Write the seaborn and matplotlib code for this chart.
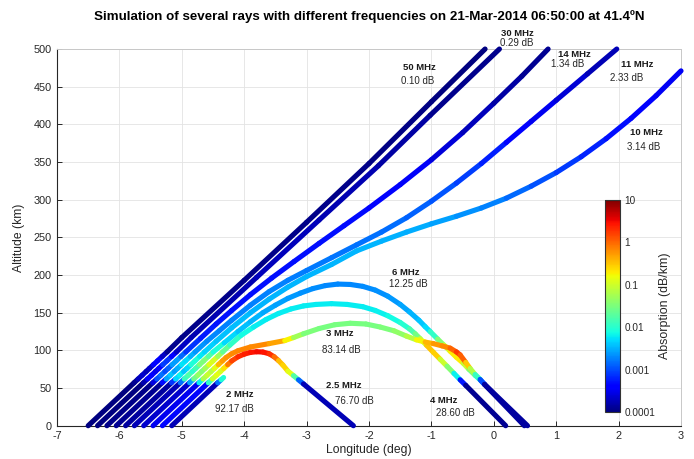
import numpy as np
import pandas as pd
import matplotlib
matplotlib.use("Agg")
import matplotlib.pyplot as plt
import seaborn as sns
from matplotlib.collections import LineCollection
from matplotlib.colors import LogNorm
from matplotlib.cm import ScalarMappable

# ---------------- data: ray paths (longitude deg, altitude km, absorption dB/km) ----------------
ray_50MHz = [(-6.50, 0, 1e-4), (-5.765, 57, 1e-4), (-5.70, 62, 1.5e-4), (-5.635, 67, 2.5e-4),
             (-5.571, 72, 2e-4), (-5.519, 76, 1.5e-4), (-5.455, 81, 3e-4), (-5.39, 86, 4.5e-4),
             (-5.313, 92, 3e-4), (-5.235, 98, 1.3e-4), (-5.00, 117, 1.1e-4), (-4.00, 193, 1.1e-4),
             (-3.00, 270, 1.1e-4), (-2.00, 348, 1.1e-4), (-1.00, 430, 1e-4), (-0.14, 500, 1e-4)]

ray_30MHz = [(-6.35, 0, 1e-4), (-5.615, 57, 1e-4), (-5.55, 62, 2.5e-4), (-5.485, 67, 5e-4),
             (-5.421, 72, 3.5e-4), (-5.369, 76, 2.5e-4), (-5.305, 81, 7e-4), (-5.24, 86, 1e-3),
             (-5.163, 92, 6e-4), (-5.085, 98, 2.5e-4), (-4.85, 117, 1.6e-4), (-3.80, 197, 1.8e-4),
             (-2.80, 273, 1.8e-4), (-1.85, 345, 1.6e-4), (-1.02, 412, 1.3e-4), (0.09, 500, 1.1e-4)]

ray_14MHz = [(-6.20, 0, 1e-4), (-5.465, 57, 1.2e-4), (-5.40, 62, 6e-4), (-5.335, 67, 2e-3),
             (-5.271, 72, 1.2e-3), (-5.219, 76, 8e-4), (-5.155, 81, 2e-3), (-5.09, 86, 3e-3),
             (-5.013, 92, 2e-3), (-4.935, 98, 1e-3), (-4.70, 116, 6e-4), (-4.45, 135, 5.5e-4),
             (-4.20, 153, 5e-4), (-3.90, 174, 5e-4), (-3.56, 196, 5e-4), (-3.20, 218, 5e-4),
             (-2.80, 242, 5e-4), (-2.40, 265.5, 5e-4), (-2.00, 289, 4.5e-4), (-1.50, 320, 4e-4),
             (-1.00, 353, 3e-4), (-0.50, 389, 2.2e-4), (0.00, 428, 1.6e-4), (0.45, 464, 1.3e-4),
             (0.87, 500, 1.2e-4)]

ray_11MHz = [(-6.05, 0, 1e-4), (-5.315, 57, 1.5e-4), (-5.25, 62, 1.5e-3), (-5.185, 67, 5e-3),
             (-5.121, 72, 3e-3), (-5.069, 76, 2e-3), (-5.005, 81, 5e-3), (-4.94, 86, 6e-3),
             (-4.863, 92, 4e-3), (-4.785, 98, 2.5e-3), (-4.60, 112, 2e-3), (-4.40, 126, 1.9e-3),
             (-4.20, 140, 1.8e-3), (-3.90, 160, 1.8e-3), (-3.60, 178, 1.8e-3), (-3.30, 193, 1.8e-3),
             (-3.00, 206, 1.7e-3), (-2.60, 223, 1.6e-3), (-2.20, 240, 1.6e-3), (-1.80, 257, 1.5e-3),
             (-1.40, 276, 1.4e-3), (-1.00, 298, 1.2e-3), (-0.60, 322, 1e-3), (-0.20, 348, 7e-4),
             (0.20, 376, 5e-4), (0.60, 404, 3.5e-4), (1.00, 432, 2.8e-4), (1.50, 467, 2e-4),
             (1.97, 500, 1.6e-4)]

ray_10MHz = [(-5.90, 0, 1e-4), (-5.165, 57, 2e-4), (-5.10, 62, 3e-3), (-5.035, 67, 8e-3),
             (-4.971, 72, 5e-3), (-4.919, 76, 3e-3), (-4.855, 81, 8e-3), (-4.79, 86, 1e-2),
             (-4.713, 92, 7e-3), (-4.635, 98, 5e-3), (-4.45, 112, 4e-3), (-4.20, 130, 3.6e-3),
             (-3.90, 150, 3.4e-3), (-3.60, 168, 3.2e-3), (-3.30, 184, 3.2e-3), (-3.00, 198, 3.2e-3),
             (-2.60, 214, 3.2e-3), (-2.20, 232, 3.2e-3), (-1.80, 245, 3.2e-3), (-1.40, 257, 3.1e-3),
             (-1.00, 268, 2.8e-3), (-0.60, 278, 2.4e-3), (-0.20, 289, 2e-3), (0.20, 302, 1.6e-3),
             (0.60, 318, 1.2e-3), (1.00, 336, 9e-4), (1.40, 357, 7e-4), (1.80, 381, 5.5e-4),
             (2.20, 408, 4.5e-4), (2.60, 438, 3.5e-4), (3.00, 471, 3e-4)]

ray_6MHz = [(-5.76, 0, 1e-4), (-5.025, 57, 3e-4), (-4.96, 62, 8e-3), (-4.895, 67, 2e-2),
            (-4.831, 72, 1.3e-2), (-4.779, 76, 8e-3), (-4.715, 81, 2.5e-2), (-4.65, 86, 4e-2),
            (-4.573, 92, 2.5e-2), (-4.495, 98, 1.2e-2), (-4.32, 110, 6e-3), (-4.10, 125, 4e-3),
            (-3.90, 138, 3.5e-3), (-3.70, 150, 3e-3), (-3.50, 160, 2.7e-3), (-3.30, 169, 2.5e-3),
            (-3.10, 176, 2.2e-3), (-2.90, 182, 2.1e-3), (-2.70, 186, 2e-3), (-2.50, 188, 2e-3),
            (-2.30, 187.5, 2e-3), (-2.10, 185, 2e-3), (-1.90, 180, 2.1e-3), (-1.70, 172, 2.3e-3),
            (-1.50, 161, 2.5e-3), (-1.35, 151, 3e-3), (-1.20, 140, 3.5e-3), (-1.10, 131.5, 4.5e-3),
            (-1.02, 125, 6e-3), (-0.90, 115, 2e-2), (-0.80, 107, 6e-2), (-0.70, 99, 0.15),
            (-0.60, 91, 0.25), (-0.49, 83, 0.15), (-0.40, 75, 0.05), (-0.30, 67, 0.015),
            (-0.22, 61, 5e-3), (-0.15, 55, 2e-4), (0.54, 0, 1e-4)]

ray_4MHz = [(-5.61, 0, 1e-4), (-4.875, 57, 5e-4), (-4.81, 62, 1.5e-2), (-4.745, 67, 5e-2),
            (-4.681, 72, 4e-2), (-4.629, 76, 3e-2), (-4.565, 81, 0.1), (-4.50, 86, 0.15),
            (-4.423, 92, 0.08), (-4.345, 98, 0.03), (-4.23, 107, 1.5e-2), (-4.05, 120, 8e-3),
            (-3.85, 131, 6.5e-3), (-3.65, 141, 6e-3), (-3.45, 149, 6e-3), (-3.25, 155, 6e-3),
            (-3.05, 159, 6e-3), (-2.85, 161, 6e-3), (-2.60, 162, 6e-3), (-2.35, 161, 6e-3),
            (-2.10, 158, 6e-3), (-1.90, 153, 6.2e-3), (-1.70, 146, 6.5e-3), (-1.50, 137, 8e-3),
            (-1.35, 128.5, 0.012), (-1.26, 122, 0.02), (-1.18, 115.5, 0.04), (-1.08, 107, 0.2),
            (-0.97, 97.6, 0.5), (-0.86, 88.3, 0.15), (-0.75, 79, 0.06), (-0.64, 69.6, 0.02),
            (-0.54, 61, 2e-3), (-0.45, 53.6, 1.5e-4), (0.19, 0, 1e-4)]

ray_3MHz = [(-5.46, 0, 1e-4), (-4.725, 57, 1e-3), (-4.66, 62, 4e-2), (-4.595, 67, 0.1),
            (-4.531, 72, 0.08), (-4.479, 76, 0.06), (-4.415, 81, 0.3), (-4.35, 86, 0.5),
            (-4.29, 90.5, 0.55), (-4.20, 95.5, 0.6), (-4.10, 99.5, 0.7), (-3.90, 104.5, 0.7),
            (-3.60, 109, 0.6), (-3.35, 113, 0.4), (-3.21, 117, 0.08), (-3.05, 122, 0.035),
            (-2.80, 129, 0.03), (-2.55, 134, 0.03), (-2.30, 136, 0.03), (-2.05, 135, 0.03),
            (-1.82, 131, 0.03), (-1.60, 126, 0.035), (-1.40, 119, 0.05), (-1.24, 114, 0.1),
            (-1.10, 111, 0.3), (-0.97, 109, 0.5), (-0.83, 106, 0.6), (-0.70, 103, 0.7),
            (-0.60, 98, 1.5), (-0.54, 94, 2.0), (-0.45, 84, 0.6), (-0.38, 76, 0.15),
            (-0.30, 68, 0.03), (-0.22, 61.5, 5e-3), (-0.15, 55, 2e-4), (0.49, 0, 1e-4)]

ray_2_5MHz = [(-5.31, 0, 1e-4), (-4.575, 57, 2e-3), (-4.51, 62, 6e-2), (-4.445, 67, 0.15),
              (-4.381, 72, 0.12), (-4.329, 76, 0.1), (-4.265, 81, 0.5), (-4.20, 86, 1.2),
              (-4.10, 91.5, 2.0), (-4.00, 95, 2.3), (-3.90, 97.3, 2.6), (-3.80, 98.2, 3.0),
              (-3.70, 97.8, 3.0), (-3.60, 95.5, 2.5), (-3.52, 91.5, 1.5), (-3.45, 86.5, 0.6),
              (-3.38, 80.5, 0.2), (-3.30, 72.5, 0.35), (-3.21, 66.5, 0.05), (-3.13, 61, 6e-3),
              (-3.05, 55.5, 3e-4), (-2.25, 0, 1e-4)]

ray_2MHz = [(-5.16, 0, 1e-4), (-4.425, 57, 3e-4), (-4.37, 61, 8e-3), (-4.33, 64, 1e-2)]

ray_names = ["50 MHz", "30 MHz", "14 MHz", "11 MHz", "10 MHz",
             "6 MHz", "4 MHz", "3 MHz", "2.5 MHz", "2 MHz"]
ray_paths = [ray_50MHz, ray_30MHz, ray_14MHz, ray_11MHz, ray_10MHz,
             ray_6MHz, ray_4MHz, ray_3MHz, ray_2_5MHz, ray_2MHz]

# labels: frequency, total absorption, and their positions (lon, alt)
label_freq = ["50 MHz", "30 MHz", "14 MHz", "11 MHz", "10 MHz",
              "6 MHz", "3 MHz", "2.5 MHz", "4 MHz", "2 MHz"]
label_db = ["0.10 dB", "0.29 dB", "1.34 dB", "2.33 dB", "3.14 dB",
            "12.25 dB", "83.14 dB", "76.70 dB", "28.60 dB", "92.17 dB"]
freq_lon = [-1.20, 0.37, 1.29, 2.29, 2.45, -1.41, -2.47, -2.41, -0.81, -4.07]
freq_alt = [475, 521, 493, 480, 389, 203, 122, 53, 33, 41]
db_lon = [-1.22, 0.37, 1.18, 2.13, 2.40, -1.37, -2.44, -2.24, -0.61, -4.15]
db_alt = [457, 508, 480, 461, 370, 188, 101, 33, 17, 22]

x_ticks = [-7, -6, -5, -4, -3, -2, -1, 0, 1, 2, 3]
y_ticks = [0, 50, 100, 150, 200, 250, 300, 350, 400, 450, 500]
cbar_ticks = [1e-4, 1e-3, 1e-2, 1e-1, 1, 10]
cbar_labels = ["0.0001", "0.001", "0.01", "0.1", "1", "10"]

# ---------------- table ----------------
rows = []
for name, path in zip(ray_names, ray_paths):
    for k, (lo, al, ab) in enumerate(path):
        rows.append({"ray": name, "step": k, "lon": lo, "alt": al, "absorption": ab})
df = pd.DataFrame(rows)

# ---------------- style ----------------
sns.set_theme(style="whitegrid")
plt.rcParams["font.family"] = ["Liberation Sans", "DejaVu Sans"]
plt.rcParams["axes.unicode_minus"] = False

fig = plt.figure(figsize=(6.94, 4.59), dpi=100)
ax = fig.add_axes([0.0821, 0.0725, 0.8992, 0.8207])
ax.set_facecolor("white")

dark = "#262626"
cmap = plt.get_cmap("jet")
norm = LogNorm(vmin=1e-4, vmax=10)

for name in ray_names:
    d = df[df["ray"] == name].sort_values("step")
    pts = d[["lon", "alt"]].to_numpy()
    ab = d["absorption"].to_numpy()
    segs = np.stack([pts[:-1], pts[1:]], axis=1)
    seg_ab = np.sqrt(ab[:-1] * ab[1:])
    lc = LineCollection(segs, colors=cmap(norm(seg_ab)), linewidths=3.7,
                        capstyle="round", joinstyle="round", zorder=3)
    lc.set_clip_on(False)
    ax.add_collection(lc)

for f, lo, al in zip(label_freq, freq_lon, freq_alt):
    ax.text(lo, al, f, ha="center", va="center", fontsize=6.8, fontweight="bold",
            color="#1a1a1a", clip_on=False, zorder=5)
for t, lo, al in zip(label_db, db_lon, db_alt):
    ax.text(lo, al, t, ha="center", va="center", fontsize=7, color="#262626",
            clip_on=False, zorder=5)

ax.set_xlim(-7, 3)
ax.set_ylim(0, 500)
ax.set_xticks(x_ticks)
ax.set_yticks(y_ticks)
ax.set_xticklabels([str(v) for v in x_ticks])
ax.grid(True, color="#e3e3e3", linewidth=0.6)
ax.tick_params(axis="both", direction="in", length=3.5, width=0.7, colors=dark,
               labelsize=7.8, pad=4, left=True, bottom=True)
for side in ["left", "bottom"]:
    ax.spines[side].set_color(dark)
    ax.spines[side].set_linewidth(0.8)
for side in ["top", "right"]:
    ax.spines[side].set_color("#c8c8c8")
    ax.spines[side].set_linewidth(0.7)
ax.set_xlabel("Longitude (deg)", fontsize=8.7, color=dark, labelpad=2)
ax.set_ylabel("Altitude (km)", fontsize=8.7, color=dark, labelpad=6)

fig.text(0.532, 0.963,
         "Simulation of several rays with different frequencies on 21-Mar-2014 06:50:00 at 41.4\u00baN",
         ha="center", va="center", fontsize=9.6, fontweight="bold", color="black")

# colorbar inside the axes
cax = fig.add_axes([0.872, 0.1024, 0.0216, 0.462])
sm = ScalarMappable(norm=norm, cmap=cmap)
cb = fig.colorbar(sm, cax=cax)
cb.set_ticks(cbar_ticks)
cb.set_ticklabels(cbar_labels)
cb.minorticks_off()
cb.outline.set_edgecolor("#333333")
cb.outline.set_linewidth(0.8)
cax.tick_params(direction="in", length=3, width=0.6, colors=dark, labelsize=7.2, pad=3)
cb.set_label("Absorption (dB/km)", fontsize=8.9, color=dark, labelpad=3)

fig.savefig("out.png", dpi=100)
